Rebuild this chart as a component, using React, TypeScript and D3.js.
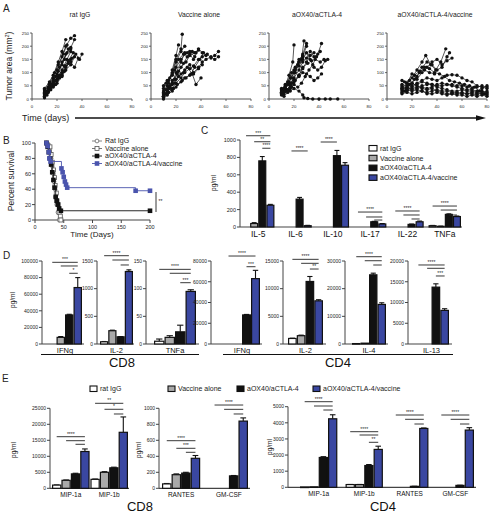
import React from "react";
import * as d3 from "d3";

const FONT = "'Liberation Sans', Arial, Helvetica, sans-serif";
const BLUE = "#3a47a1";
const BLUE_LT = "#4a54ad";
const FILLS = ["#ffffff", "#a9a9a9", "#111111", BLUE];

// ---------------- Panel A data ----------------
const aTitles = ["rat IgG", "Vaccine alone", "aOX40/aCTLA-4", "aOX40/aCTLA-4/vaccine"];
const aTicksX = [0, 20, 40, 60, 80];
const aTicksY = [0, 50, 100, 150, 200, 250];

const miceRatIgG: number[][][] = [
  [[10, 20], [13, 45], [17, 80], [20, 110], [24, 160], [27, 200], [31, 230], [34, 240]],
  [[10, 25], [13, 40], [17, 65], [20, 95], [24, 130], [27, 170], [31, 195], [34, 225]],
  [[10, 30], [14, 55], [17, 70], [21, 105], [24, 140], [28, 175], [31, 190]],
  [[10, 15], [13, 30], [17, 55], [20, 75], [24, 100], [27, 125], [31, 150], [35, 170], [38, 150], [40, 170]],
  [[10, 5], [13, 25], [17, 50], [20, 70], [24, 90], [27, 120], [31, 140], [34, 120], [37, 155]],
  [[10, 35], [14, 60], [17, 90], [21, 140], [24, 180], [27, 225]],
  [[10, 20], [14, 40], [17, 60], [21, 85], [24, 110], [28, 150], [31, 180]],
  [[10, 10], [13, 30], [17, 45], [20, 60], [24, 85], [27, 110], [31, 130], [34, 160]],
  [[12, 30], [15, 55], [19, 85], [22, 120], [26, 150], [29, 190]],
  [[12, 25], [15, 45], [19, 70], [22, 90], [26, 125], [29, 145], [33, 175]],
  [[10, 40], [14, 65], [18, 100], [21, 130], [25, 170], [28, 205]],
  [[12, 15], [15, 35], [19, 55], [22, 80], [26, 105], [29, 135], [32, 155]],
];
const miceVaccine: number[][][] = [
  [[10, 20], [13, 50], [17, 100], [20, 150], [24, 190], [25, 245]],
  [[10, 10], [13, 30], [17, 60], [20, 100], [24, 140], [27, 175], [31, 170], [34, 150]],
  [[10, 30], [14, 60], [17, 110], [20, 165], [22, 205]],
  [[10, 40], [14, 70], [17, 90], [20, 120], [24, 150], [27, 170], [31, 180], [35, 160], [38, 190], [41, 175], [44, 165]],
  [[10, 5], [13, 20], [17, 40], [20, 60], [24, 80], [27, 100], [31, 115], [34, 125], [38, 150], [41, 160], [45, 170], [48, 155], [51, 165], [54, 180]],
  [[10, 15], [13, 35], [17, 55], [20, 75], [24, 95], [27, 110], [31, 130], [34, 100], [38, 120], [41, 140], [44, 150], [48, 160], [51, 150], [54, 160]],
  [[10, 50], [13, 70], [17, 95], [20, 140], [24, 180], [27, 200]],
  [[10, 25], [14, 45], [17, 70], [21, 95], [24, 120], [28, 140], [31, 165], [35, 175], [38, 185]],
  [[12, 20], [15, 40], [19, 60], [22, 85], [26, 100], [29, 120], [33, 95], [36, 55], [40, 80]],
  [[12, 60], [15, 80], [19, 110], [22, 150], [26, 170], [29, 175]],
  [[10, 0], [13, 15], [17, 30], [20, 45], [24, 65], [27, 80], [31, 90], [34, 95], [38, 115], [41, 130]],
  [[12, 35], [15, 50], [19, 75], [22, 105], [26, 135], [29, 160], [33, 180], [36, 175]],
  [[10, 10], [14, 25], [18, 40], [21, 55], [25, 70], [28, 80], [32, 95], [35, 120], [39, 150], [42, 175]],
];
const miceAox: number[][][] = [
  [[10, 30], [13, 50], [16, 90], [19, 140], [20, 205]],
  [[10, 20], [13, 40], [16, 65], [20, 100], [23, 130], [26, 150], [28, 220]],
  [[10, 35], [13, 55], [17, 80], [20, 110], [24, 140], [27, 170], [30, 210]],
  [[10, 25], [13, 40], [17, 60], [20, 80], [24, 110], [27, 140], [30, 155], [33, 180], [36, 160], [39, 170], [42, 210]],
  [[10, 15], [13, 30], [17, 50], [20, 70], [24, 90], [27, 120], [31, 135], [34, 145], [37, 150], [41, 140], [44, 150], [47, 150]],
  [[10, 40], [13, 45], [17, 30], [20, 40], [24, 30], [27, 15], [28, 5], [31, 2], [35, 0], [40, 0], [45, 0], [49, 0], [55, 0]],
  [[12, 20], [15, 35], [18, 60], [21, 100], [24, 140], [27, 160], [30, 200]],
  [[12, 30], [15, 55], [18, 80], [21, 110], [24, 125], [27, 150], [30, 175], [33, 150], [36, 120], [39, 110], [42, 120], [45, 145]],
  [[10, 20], [13, 30], [17, 50], [20, 65], [24, 85], [27, 100], [30, 95], [33, 85], [36, 70], [39, 80], [42, 95]],
  [[12, 40], [15, 65], [18, 100], [21, 120], [24, 150], [27, 165]],
  [[10, 25], [13, 30], [17, 40], [20, 55], [23, 45], [26, 60], [29, 85], [32, 110], [35, 130], [38, 160], [41, 180]],
  [[12, 10], [15, 25], [18, 45], [21, 70], [24, 90], [27, 115], [30, 140], [33, 165], [36, 175]],
];
const miceAoxVac: number[][][] = [
  [[12, 40], [16, 60], [20, 80], [24, 110], [28, 140], [31, 165], [35, 130], [39, 110], [43, 140], [47, 190]],
  [[12, 70], [16, 60], [20, 95], [24, 75], [28, 100], [32, 120], [36, 140], [40, 150], [44, 130], [48, 145], [52, 155]],
  [[12, 30], [16, 45], [20, 60], [24, 85], [28, 120], [32, 140], [36, 130], [40, 110], [44, 120], [48, 160], [50, 175]],
  [[12, 50], [16, 40], [20, 50], [24, 60], [28, 70], [32, 80], [36, 75], [40, 70], [44, 80], [48, 90], [52, 92], [56, 90], [60, 80], [64, 70], [68, 65], [72, 50], [76, 45], [80, 40]],
  [[12, 35], [16, 30], [20, 40], [24, 45], [28, 50], [32, 55], [36, 55], [40, 50], [44, 50], [48, 55], [52, 55], [56, 50], [60, 50], [64, 45], [68, 40], [72, 45], [76, 50], [80, 45]],
  [[12, 45], [16, 35], [20, 30], [24, 35], [28, 30], [32, 25], [36, 30], [40, 35], [44, 30], [48, 30], [52, 25], [56, 25], [60, 20], [64, 20], [68, 25], [72, 20], [76, 20], [80, 15]],
  [[12, 25], [16, 35], [20, 45], [24, 55], [28, 65], [32, 60], [36, 55], [40, 45], [44, 40], [48, 35], [52, 30], [56, 30], [60, 35], [64, 30], [68, 30], [72, 25], [76, 30], [80, 25]],
  [[12, 55], [16, 50], [20, 60], [24, 50], [28, 40], [32, 35], [36, 40], [40, 30], [44, 25], [48, 20], [52, 20], [56, 15], [60, 15], [64, 10], [68, 15], [72, 10], [76, 15], [80, 10]],
  [[12, 40], [16, 45], [20, 35], [24, 40], [28, 45], [32, 40], [36, 45], [40, 55], [44, 60], [48, 55], [52, 50], [56, 45], [60, 40], [64, 35], [68, 35], [72, 30], [76, 40], [80, 50]],
  [[14, 30], [18, 55], [22, 75], [26, 100], [30, 120], [34, 115], [38, 100], [42, 95], [46, 85], [50, 70], [54, 65], [58, 60], [62, 55], [66, 50], [70, 45], [74, 30], [78, 20], [80, 20]],
  [[14, 65], [18, 70], [22, 90], [26, 105], [30, 110], [34, 100], [38, 95]],
  [[12, 20], [16, 25], [20, 20], [24, 25], [28, 30], [32, 20], [36, 20], [40, 25], [44, 20], [48, 15], [52, 20], [56, 20], [60, 25], [64, 20], [68, 20], [72, 15], [76, 25], [80, 30]],
];
const aMice = [miceRatIgG, miceVaccine, miceAox, miceAoxVac];

// ---------------- Panel B data ----------------
const bLegend = ["Rat IgG", "Vaccine alone", "aOX40/aCTLA-4", "aOX40/aCTLA-4/vaccine"];
const bTicksX = [0, 50, 100, 150, 200];
const bTicksY = [0, 20, 40, 60, 80, 100];
const survRat = [[20, 100], [25, 90], [28, 80], [30, 70], [32, 60], [33, 50], [35, 40], [36, 30], [38, 20], [40, 10], [42, 0]];
const survVac = [[20, 100], [26, 95], [28, 85], [30, 75], [32, 65], [34, 55], [35, 45], [37, 35], [38, 25], [40, 20], [42, 10], [44, 5], [45, 0]];
const survAox = [[20, 100], [22, 95], [24, 88], [26, 80], [28, 72], [30, 62], [32, 52], [34, 42], [36, 30], [38, 25], [40, 20], [42, 15], [45, 12], [200, 12]];
const survAoxVac = [[20, 100], [22, 96], [24, 88], [25, 80], [27, 76], [46, 67], [48, 62], [50, 56], [52, 50], [54, 46], [56, 42], [175, 38], [200, 38]];

// ---------------- Panel C data ----------------
const groupNames = ["rat IgG", "Vaccine alone", "aOX40/aCTLA-4", "aOX40/aCTLA-4/vaccine"];
const cCats = ["IL-5", "IL-6", "IL-10", "IL-17", "IL-22", "TNFa"];
const cTicks = [0, 200, 400, 600, 800, 1000];
const cRat = [0, 0, 0, 0, 0, 15];
const cVac = [40, 0, 0, 0, 0, 8];
const cAox = [760, 320, 820, 60, 30, 145];
const cAoxVac = [250, 15, 710, 35, 60, 120];
const cRatErr = [0, 0, 0, 0, 0, 3];
const cVacErr = [10, 0, 0, 0, 0, 2];
const cAoxErr = [50, 20, 60, 5, 4, 6];
const cAoxVacErr = [10, 4, 30, 5, 8, 6];
const cSig = [
  { g: 0, from: 0, to: 3, v: 1049, label: "***" },
  { g: 0, from: 1, to: 3, v: 980, label: "**" },
  { g: 0, from: 2, to: 3, v: 905, label: "****" },
  { g: 1, from: 1, to: 3, v: 874, label: "****" },
  { g: 2, from: 0, to: 2, v: 977, label: "****" },
  { g: 3, from: 0, to: 3, v: 172, label: "****" },
  { g: 3, from: 1, to: 3, v: 115, label: "" },
  { g: 3, from: 2, to: 3, v: 80, label: "" },
  { g: 4, from: 0, to: 3, v: 184, label: "****" },
  { g: 4, from: 1, to: 3, v: 138, label: "" },
  { g: 4, from: 2, to: 3, v: 92, label: "" },
  { g: 5, from: 0, to: 3, v: 241, label: "****" },
  { g: 5, from: 1, to: 3, v: 195, label: "" },
  { g: 5, from: 2, to: 3, v: 138, label: "" },
];

// ---------------- Panel D data ----------------
const dCats = ["IFNg", "IL-2", "TNFa", "IFNg", "IL-2", "IL-4", "IL-13"];
const dMax = [100000, 1500, 150, 80000, 15000, 30000, 20000];
const dTicks = [
  [0, 20000, 40000, 60000, 80000, 100000],
  [0, 500, 1000, 1500],
  [0, 50, 100, 150],
  [0, 20000, 40000, 60000, 80000],
  [0, 5000, 10000, 15000],
  [0, 10000, 20000, 30000],
  [0, 5000, 10000, 15000, 20000],
];
const dRat = [0, 40, 5, 0, 1000, 150, 0];
const dVac = [8000, 240, 12, 0, 1500, 300, 0];
const dAox = [35000, 130, 22, 28000, 11300, 25000, 13700];
const dAoxVac = [68000, 1310, 95, 63000, 7800, 14300, 8100];
const dRatErr = [0, 5, 4, 0, 50, 0, 0];
const dVacErr = [1000, 10, 3, 0, 100, 0, 0];
const dAoxErr = [800, 5, 12, 500, 900, 600, 800];
const dAoxVacErr = [12000, 30, 3, 8000, 200, 600, 400];
const dSig = [
  [{ from: 0, to: 3, v: 98400, label: "***" }, { from: 1, to: 3, v: 94000, label: "" }, { from: 2, to: 3, v: 85200, label: "*" }],
  [{ from: 0, to: 3, v: 1596, label: "****" }, { from: 1, to: 3, v: 1518, label: "" }, { from: 2, to: 3, v: 1428, label: "" }],
  [{ from: 0, to: 3, v: 134.9, label: "****" }, { from: 1, to: 3, v: 127.8, label: "" }, { from: 2, to: 3, v: 110.8, label: "***" }],
  [{ from: 0, to: 3, v: 84800, label: "****" }, { from: 2, to: 3, v: 74500, label: "***" }],
  [{ from: 0, to: 3, v: 15300, label: "****" }, { from: 1, to: 3, v: 14580, label: "" }, { from: 2, to: 3, v: 13550, label: "**" }],
  [{ from: 0, to: 3, v: 31550, label: "****" }, { from: 1, to: 3, v: 30100, label: "" }, { from: 2, to: 3, v: 28550, label: "" }],
  [{ from: 0, to: 3, v: 19040, label: "****" }, { from: 1, to: 3, v: 18240, label: "" }, { from: 2, to: 3, v: 16390, label: "***" }],
];

// ---------------- Panel E data ----------------
const e1Cats = ["MIP-1a", "MIP-1b"];
const e1Ticks = [0, 5000, 10000, 15000, 20000, 25000];
const e1Rat = [1000, 2800];
const e1Vac = [2500, 5000];
const e1Aox = [4500, 6400];
const e1AoxVac = [11500, 17500];
const e1RatErr = [50, 100];
const e1VacErr = [100, 200];
const e1AoxErr = [200, 200];
const e1AoxVacErr = [800, 4800];
const e1Sig = [
  { g: 0, from: 0, to: 3, v: 16125, label: "****" },
  { g: 0, from: 1, to: 3, v: 14875, label: "" },
  { g: 0, from: 2, to: 3, v: 13750, label: "" },
  { g: 1, from: 0, to: 3, v: 26560, label: "**" },
  { g: 1, from: 1, to: 3, v: 24690, label: "*" },
  { g: 1, from: 2, to: 3, v: 23220, label: "" },
];
const e2Cats = ["RANTES", "GM-CSF"];
const e2Ticks = [0, 200, 400, 600, 800, 1000];
const e2Rat = [55, 0];
const e2Vac = [170, 0];
const e2Aox = [190, 155];
const e2AoxVac = [375, 840];
const e2RatErr = [5, 0];
const e2VacErr = [10, 0];
const e2AoxErr = [10, 5];
const e2AoxVacErr = [35, 40];
const e2Sig = [
  { g: 0, from: 0, to: 3, v: 595, label: "****" },
  { g: 0, from: 1, to: 3, v: 500, label: "***" },
  { g: 0, from: 2, to: 3, v: 450, label: "" },
  { g: 1, from: 0, to: 3, v: 1041, label: "****" },
  { g: 1, from: 1, to: 3, v: 987, label: "" },
  { g: 1, from: 2, to: 3, v: 929, label: "" },
];
const e3Cats = ["MIP-1a", "MIP-1b", "RANTES", "GM-CSF"];
const e3Ticks = [0, 1000, 2000, 3000, 4000, 5000];
const e3Rat = [20, 170, 0, 0];
const e3Vac = [30, 170, 0, 0];
const e3Aox = [1850, 1350, 60, 120];
const e3AoxVac = [4250, 2350, 3650, 3550];
const e3RatErr = [0, 5, 0, 0];
const e3VacErr = [0, 5, 0, 0];
const e3AoxErr = [50, 60, 5, 10];
const e3AoxVacErr = [250, 200, 30, 150];
const e3Sig = [
  { g: 0, from: 0, to: 3, v: 5310, label: "****" },
  { g: 0, from: 1, to: 3, v: 5043, label: "" },
  { g: 0, from: 2, to: 3, v: 4795, label: "" },
  { g: 1, from: 0, to: 3, v: 3449, label: "****" },
  { g: 1, from: 1, to: 3, v: 3244, label: "" },
  { g: 1, from: 2, to: 3, v: 2791, label: "**" },
  { g: 2, from: 0, to: 3, v: 4485, label: "****" },
  { g: 2, from: 1, to: 3, v: 4218, label: "" },
  { g: 2, from: 2, to: 3, v: 3926, label: "" },
  { g: 3, from: 0, to: 3, v: 4485, label: "****" },
  { g: 3, from: 1, to: 3, v: 4218, label: "" },
  { g: 3, from: 2, to: 3, v: 3926, label: "" },
];

// ---------------- Components ----------------
type Sig = { g?: number; from: number; to: number; v: number; label: string };
type BarProps = {
  cats: string[];
  series: number[][];
  errs: number[][];
  max: number;
  ticks: number[];
  axisX: number;
  endX: number;
  yTop: number;
  yBottom: number;
  r0: number;
  r1: number;
  padInner: number;
  sigs: Sig[];
  catY: number;
  tickFont: number;
  catFont: number;
};

function Bars(p: BarProps) {
  const y = d3.scaleLinear().domain([0, p.max]).range([p.yBottom, p.yTop]);
  const gx = d3.scaleBand<string>().domain(p.cats.map((c, i) => c + "#" + i)).range([p.r0, p.r1]).paddingInner(p.padInner);
  const bx = d3.scaleBand<number>().domain([0, 1, 2, 3]).range([0, gx.bandwidth()]);
  const bw = bx.bandwidth();
  const key = (i: number) => p.cats[i] + "#" + i;
  return (
    <g>
      {/* y axis */}
      <line x1={p.axisX} x2={p.axisX} y1={p.yBottom} y2={y(p.max)} stroke="#444" strokeWidth={1} />
      {p.ticks.map((t) => (
        <g key={t}>
          <line x1={p.axisX - 3} x2={p.axisX} y1={y(t)} y2={y(t)} stroke="#444" strokeWidth={1} />
          <text x={p.axisX - 4} y={y(t)} dy="0.35em" textAnchor="end" fontSize={p.tickFont} fill="#222">
            {String(t)}
          </text>
        </g>
      ))}
      {/* x axis */}
      <line x1={p.axisX} x2={p.endX} y1={p.yBottom} y2={p.yBottom} stroke="#444" strokeWidth={1.2} />
      {p.cats.map((c, gi) => {
        const gx0 = gx(key(gi)) as number;
        return (
          <g key={gi}>
            {p.series.map((s, si) => {
              const v = s[gi];
              if (!(v > 0)) return null;
              const x0 = gx0 + (bx(si) as number);
              const e = p.errs[si][gi] || 0;
              const cx = x0 + bw / 2;
              return (
                <g key={si}>
                  {e > 0 && (
                    <g>
                      <line x1={cx} x2={cx} y1={y(v)} y2={y(v + e)} stroke="#111" strokeWidth={1.1} />
                      <line x1={cx - bw * 0.3} x2={cx + bw * 0.3} y1={y(v + e)} y2={y(v + e)} stroke="#111" strokeWidth={1.1} />
                    </g>
                  )}
                  <rect
                    x={x0 + 0.6}
                    y={y(v)}
                    width={bw - 1.2}
                    height={Math.max(0.6, p.yBottom - y(v))}
                    fill={FILLS[si]}
                    stroke="#111"
                    strokeWidth={1.2}
                  />
                </g>
              );
            })}
            <text x={gx0 + gx.bandwidth() / 2} y={p.catY} dy="0.35em" textAnchor="middle" fontSize={p.catFont} fill="#111">
              {c}
            </text>
          </g>
        );
      })}
      {p.sigs.map((s, i) => {
        const gi = s.g ?? 0;
        const gx0 = gx(key(gi)) as number;
        const xa = gx0 + (bx(s.from) as number) + bw / 2;
        const xb = gx0 + (bx(s.to) as number) + bw / 2;
        return (
          <g key={"s" + i}>
            <line x1={xa} x2={xb} y1={y(s.v)} y2={y(s.v)} stroke="#222" strokeWidth={0.9} />
            {s.label && (
              <text x={(xa + xb) / 2} y={y(s.v) - 1} textAnchor="middle" fontSize={5} fill="#222">
                {s.label}
              </text>
            )}
          </g>
        );
      })}
    </g>
  );
}

function Spaghetti({ idx, x0 }: { idx: number; x0: number }) {
  const x = d3.scaleLinear().domain([0, 80]).range([x0, x0 + 100]);
  const y = d3.scaleLinear().domain([0, 250]).range([99, 33]);
  const line = d3.line<number[]>().x((d) => x(d[0])).y((d) => y(d[1]));
  return (
    <g>
      <text x={x0 + 48} y={17} textAnchor="middle" fontSize={6.8} fill="#222">
        {aTitles[idx]}
      </text>
      <line x1={x0} x2={x0} y1={99} y2={33} stroke="#444" strokeWidth={0.9} />
      <line x1={x0} x2={x0 + 100} y1={99} y2={99} stroke="#444" strokeWidth={0.9} />
      {aTicksY.map((t) => (
        <g key={"y" + t}>
          <line x1={x0 - 2} x2={x0} y1={y(t)} y2={y(t)} stroke="#444" strokeWidth={0.8} />
          <text x={x0 - 3} y={y(t)} dy="0.35em" textAnchor="end" fontSize={4.3} fill="#222">
            {t}
          </text>
        </g>
      ))}
      {aTicksX.map((t) => (
        <g key={"x" + t}>
          <line x1={x(t)} x2={x(t)} y1={99} y2={101} stroke="#444" strokeWidth={0.8} />
          <text x={x(t)} y={106} dy="0.35em" textAnchor="middle" fontSize={4.3} fill="#222">
            {t}
          </text>
        </g>
      ))}
      {aMice[idx].map((m, i) => (
        <g key={i}>
          <path d={line(m) || ""} fill="none" stroke="#111" strokeWidth={0.7} />
          {m.map((d, j) => (
            <circle key={j} cx={x(d[0])} cy={y(d[1])} r={1.7} fill="#111" />
          ))}
        </g>
      ))}
    </g>
  );
}

function Marker({ kind, cx, cy }: { kind: number; cx: number; cy: number }) {
  if (kind === 0) return <circle cx={cx} cy={cy} r={1.9} fill="#fff" stroke="#666" strokeWidth={0.8} />;
  if (kind === 1) return <rect x={cx - 2} y={cy - 2} width={4} height={4} fill="#fff" stroke="#555" strokeWidth={0.8} />;
  if (kind === 2) return <rect x={cx - 2.3} y={cy - 2.3} width={4.6} height={4.6} fill="#111" />;
  return <rect x={cx - 2.3} y={cy - 2.3} width={4.6} height={4.6} fill={BLUE_LT} />;
}

function Survival() {
  const x = d3.scaleLinear().domain([0, 200]).range([35, 150]);
  const y = d3.scaleLinear().domain([0, 100]).range([220, 143]);
  const line = d3.line<number[]>().x((d) => x(d[0])).y((d) => y(d[1])).curve(d3.curveStepAfter);
  const sets = [survRat, survVac, survAox, survAoxVac];
  const lineCols = ["#777", "#666", "#111", BLUE_LT];
  const legY = [141, 148.5, 156, 163.5];
  return (
    <g>
      <line x1={35} x2={35} y1={220} y2={143} stroke="#444" strokeWidth={1} />
      <line x1={35} x2={150} y1={220} y2={220} stroke="#444" strokeWidth={1} />
      {bTicksY.map((t) => (
        <g key={"y" + t}>
          <line x1={32} x2={35} y1={y(t)} y2={y(t)} stroke="#444" />
          <text x={31} y={y(t)} dy="0.35em" textAnchor="end" fontSize={5.5} fill="#222">
            {t}
          </text>
        </g>
      ))}
      {bTicksX.map((t) => (
        <g key={"x" + t}>
          <line x1={x(t)} x2={x(t)} y1={220} y2={223} stroke="#444" />
          <text x={x(t)} y={227} dy="0.35em" textAnchor="middle" fontSize={5.5} fill="#222">
            {t}
          </text>
        </g>
      ))}
      <text x={92} y={234} dy="0.35em" textAnchor="middle" fontSize={8} fill="#222">
        Time (Days)
      </text>
      <text transform="translate(14,181) rotate(-90)" textAnchor="middle" fontSize={8.5} fill="#222">
        Percent survival
      </text>
      {sets.map((s, i) => (
        <g key={i}>
          <path d={line(s) || ""} fill="none" stroke={lineCols[i]} strokeWidth={0.9} />
          {s.map((d, j) => (
            <Marker key={j} kind={i} cx={x(d[0])} cy={y(d[1])} />
          ))}
        </g>
      ))}
      <line x1={156} x2={156} y1={192} y2={212} stroke="#222" strokeWidth={0.9} />
      <text x={158.5} y={201} dy="0.35em" fontSize={5} fill="#222">
        **
      </text>
      {bLegend.map((n, i) => (
        <g key={n}>
          <line x1={92} x2={102} y1={legY[i]} y2={legY[i]} stroke={lineCols[i]} strokeWidth={0.9} />
          <Marker kind={i} cx={97} cy={legY[i]} />
          <text x={105} y={legY[i]} dy="0.35em" fontSize={7} fill="#222">
            {n}
          </text>
        </g>
      ))}
    </g>
  );
}

export default function App() {
  const dLayout = [
    { axisX: 42, endX: 84, r0: 48, r1: 82 },
    { axisX: 97, endX: 134, r0: 100, r1: 133 },
    { axisX: 146, endX: 199, r0: 154, r1: 196 },
    { axisX: 211, endX: 262, r0: 224, r1: 260 },
    { axisX: 283, endX: 326, r0: 288, r1: 323 },
    { axisX: 345, endX: 388, r0: 352, r1: 386 },
    { axisX: 408, endX: 452, r0: 414, r1: 449 },
  ];
  const dSeries = [dRat, dVac, dAox, dAoxVac];
  const dErrs = [dRatErr, dVacErr, dAoxErr, dAoxVacErr];
  const eLegX = [90, 168, 237, 313];
  return (
    <svg
      width={493}
      height={516}
      viewBox="0 0 493 516"
      style={{ position: "absolute", left: 0, top: 0, background: "#fff" }}
      fontFamily={FONT}
    >
      <rect x={0} y={0} width={493} height={516} fill="#fff" />
      {/* Panel A */}
      <text x={3} y={12} fontSize={10} fill="#222">A</text>
      <text transform="translate(12,66) rotate(-90)" textAnchor="middle" fontSize={8.5} fill="#222">
        Tumor area (mm<tspan dy={-3} fontSize={5.5}>2</tspan>
        <tspan dy={3}>)</tspan>
      </text>
      {[32, 151, 269, 387].map((x0, i) => (
        <Spaghetti key={i} idx={i} x0={x0} />
      ))}
      <text x={22} y={118} dy="0.35em" fontSize={9} fill="#222">
        Time (days)
      </text>
      <line x1={75} x2={477} y1={118} y2={118} stroke="#111" strokeWidth={1.3} />
      <path d="M476,115.2 L486,118 L476,120.8 Z" fill="#111" />

      {/* Panel B */}
      <text x={3} y={144} fontSize={10} fill="#222">B</text>
      <Survival />

      {/* Panel C */}
      <text x={201} y={134} fontSize={10} fill="#222">C</text>
      <text transform="translate(216,183) rotate(-90)" textAnchor="middle" fontSize={6.5} fill="#222">
        pg/ml
      </text>
      <Bars
        cats={cCats}
        series={[cRat, cVac, cAox, cAoxVac]}
        errs={[cRatErr, cVacErr, cAoxErr, cAoxVacErr]}
        max={1000}
        ticks={cTicks}
        axisX={240}
        endX={462}
        yTop={140}
        yBottom={227}
        r0={242}
        r1={461}
        padInner={0.13}
        sigs={cSig}
        catY={234}
        tickFont={5.5}
        catFont={8.5}
      />
      {groupNames.map((n, i) => (
        <g key={n}>
          <rect x={369} y={145.5 + i * 9.8} width={8} height={5.5} fill={FILLS[i]} stroke="#111" strokeWidth={1.1} />
          <text x={380} y={148.3 + i * 9.8} dy="0.35em" fontSize={7} fill="#222">
            {n}
          </text>
        </g>
      ))}

      {/* Panel D */}
      <text x={3} y={259} fontSize={10} fill="#222">D</text>
      <text transform="translate(15,300) rotate(-90)" textAnchor="middle" fontSize={6.5} fill="#222">
        pg/ml
      </text>
      {dCats.map((c, i) => (
        <Bars
          key={i}
          cats={[c]}
          series={dSeries.map((s) => [s[i]])}
          errs={dErrs.map((s) => [s[i]])}
          max={dMax[i]}
          ticks={dTicks[i]}
          axisX={dLayout[i].axisX}
          endX={dLayout[i].endX}
          yTop={261}
          yBottom={344}
          r0={dLayout[i].r0}
          r1={dLayout[i].r1}
          padInner={0}
          sigs={dSig[i]}
          catY={350}
          tickFont={5}
          catFont={7.5}
        />
      ))}
      <line x1={41} x2={199} y1={354.5} y2={354.5} stroke="#111" strokeWidth={1.2} />
      <line x1={223} x2={453} y1={354.5} y2={354.5} stroke="#111" strokeWidth={1.2} />
      <text x={122} y={367} textAnchor="middle" fontSize={13} fill="#111">CD8</text>
      <text x={338} y={367} textAnchor="middle" fontSize={13} fill="#111">CD4</text>

      {/* Panel E */}
      <text x={2} y={382} fontSize={10} fill="#222">E</text>
      {groupNames.map((n, i) => (
        <g key={n}>
          <rect x={eLegX[i]} y={386} width={7} height={5.5} fill={FILLS[i]} stroke="#111" strokeWidth={1.1} />
          <text x={eLegX[i] + 10} y={389} dy="0.35em" fontSize={7} fill="#222">
            {n}
          </text>
        </g>
      ))}
      <text transform="translate(16,450) rotate(-90)" textAnchor="middle" fontSize={6.5} fill="#222">
        pg/ml
      </text>
      <Bars
        cats={e1Cats}
        series={[e1Rat, e1Vac, e1Aox, e1AoxVac]}
        errs={[e1RatErr, e1VacErr, e1AoxErr, e1AoxVacErr]}
        max={25000}
        ticks={e1Ticks}
        axisX={50}
        endX={129}
        yTop={408.3}
        yBottom={488.3}
        r0={52}
        r1={128}
        padInner={0.02}
        sigs={e1Sig}
        catY={495}
        tickFont={5}
        catFont={6.5}
      />
      <text transform="translate(141,450) rotate(-90)" textAnchor="middle" fontSize={6.5} fill="#222">
        pg/ml
      </text>
      <Bars
        cats={e2Cats}
        series={[e2Rat, e2Vac, e2Aox, e2AoxVac]}
        errs={[e2RatErr, e2VacErr, e2AoxErr, e2AoxVacErr]}
        max={1000}
        ticks={e2Ticks}
        axisX={159}
        endX={250}
        yTop={408.3}
        yBottom={488.3}
        r0={162}
        r1={248}
        padInner={0.2}
        sigs={e2Sig}
        catY={495}
        tickFont={5}
        catFont={6.5}
      />
      <text x={140} y={511} textAnchor="middle" fontSize={13} fill="#111">CD8</text>
      <text transform="translate(272,447) rotate(-90)" textAnchor="middle" fontSize={6.5} fill="#222">
        pg/ml
      </text>
      <Bars
        cats={e3Cats}
        series={[e3Rat, e3Vac, e3Aox, e3AoxVac]}
        errs={[e3RatErr, e3VacErr, e3AoxErr, e3AoxVacErr]}
        max={5000}
        ticks={e3Ticks}
        axisX={288}
        endX={476}
        yTop={406.7}
        yBottom={487.3}
        r0={300}
        r1={474}
        padInner={0.18}
        sigs={e3Sig}
        catY={494}
        tickFont={5}
        catFont={6.5}
      />
      <text x={383} y={511} textAnchor="middle" fontSize={13} fill="#111">CD4</text>
    </svg>
  );
}
